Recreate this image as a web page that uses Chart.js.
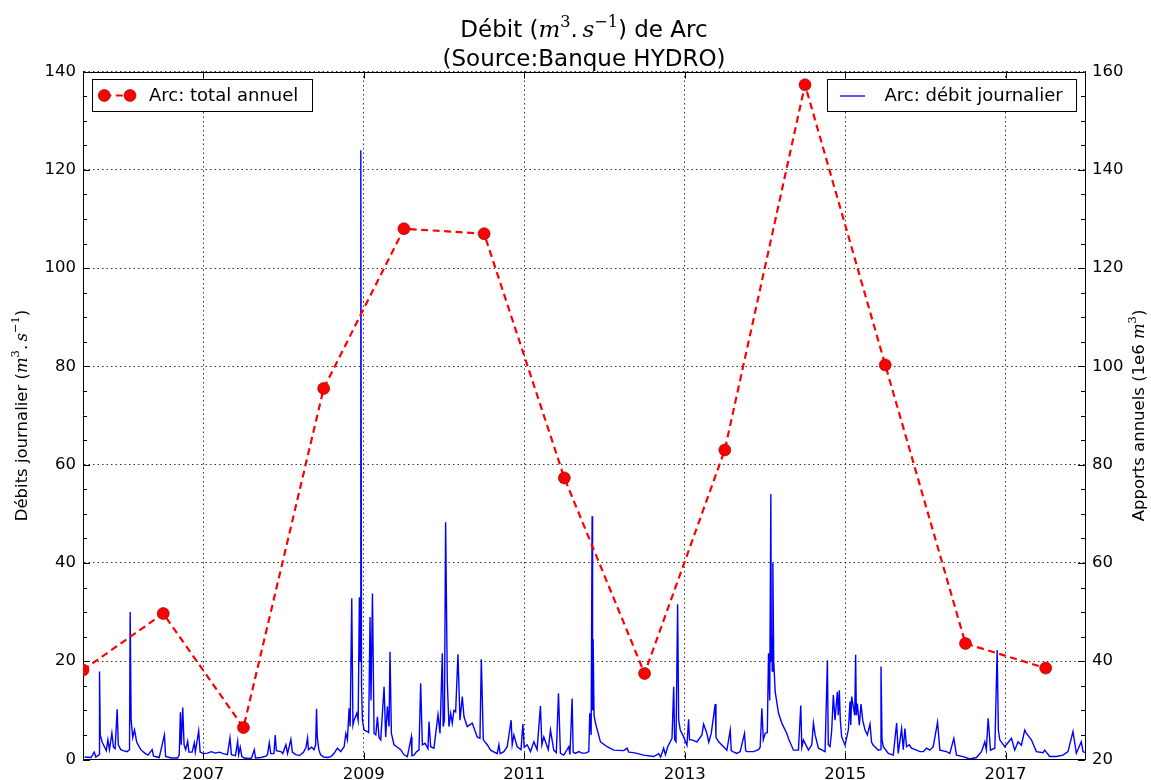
<!DOCTYPE html>
<html>
<head>
<meta charset="utf-8">
<script src="https://cdn.jsdelivr.net/npm/chart.js@4.4.1/dist/chart.umd.min.js"></script>
<style>
  html, body { margin: 0; padding: 0; background: #fff; }
  #wrap { width: 1151px; height: 780px; }
</style>
</head>
<body>
<div id="wrap"><canvas id="debit" width="1151" height="780"></canvas></div>
<script>
// Débit journalier de l'Arc (m3/s) : [année décimale, débit]
const debitJournalier = [
  [2005.520, 0.5], [2005.600, 0.4], [2005.640, 1.5], [2005.660, 0.5], [2005.700, 1.0], [2005.706, 17.9],
  [2005.715, 5.0], [2005.740, 3.5], [2005.770, 2.5], [2005.790, 1.8], [2005.810, 4.0], [2005.830, 2.0],
  [2005.860, 5.4], [2005.880, 2.5], [2005.900, 2.2], [2005.926, 10.2], [2005.940, 3.0], [2005.970, 2.0],
  [2006.000, 1.8], [2006.050, 1.6], [2006.080, 2.0], [2006.088, 30.0], [2006.100, 8.0], [2006.120, 4.5],
  [2006.142, 6.0], [2006.170, 3.5], [2006.220, 2.0], [2006.270, 1.3], [2006.310, 0.9], [2006.362, 2.0],
  [2006.380, 0.7], [2006.450, 0.4], [2006.515, 5.0], [2006.530, 0.6], [2006.600, 0.3], [2006.680, 0.3],
  [2006.700, 1.0], [2006.714, 9.6], [2006.725, 3.0], [2006.743, 10.6], [2006.760, 3.0], [2006.780, 2.0],
  [2006.805, 3.7], [2006.820, 1.5], [2006.860, 1.5], [2006.888, 3.4], [2006.900, 1.5], [2006.942, 5.8],
  [2006.960, 1.5], [2007.000, 1.2], [2007.050, 1.3], [2007.100, 1.6], [2007.150, 1.3], [2007.200, 1.5],
  [2007.250, 1.2], [2007.300, 1.0], [2007.332, 4.4], [2007.350, 1.0], [2007.400, 0.8], [2007.428, 3.7],
  [2007.440, 1.0], [2007.460, 2.5], [2007.480, 0.6], [2007.510, 0.3], [2007.560, 0.2], [2007.600, 0.3],
  [2007.635, 2.0], [2007.650, 0.3], [2007.720, 0.4], [2007.780, 0.7], [2007.800, 1.0], [2007.822, 3.4],
  [2007.840, 1.2], [2007.880, 1.2], [2007.896, 5.0], [2007.910, 1.8], [2007.967, 1.6], [2007.990, 1.2],
  [2008.029, 3.0], [2008.050, 1.2], [2008.091, 4.1], [2008.110, 1.5], [2008.150, 1.0], [2008.200, 0.8],
  [2008.250, 1.5], [2008.280, 2.5], [2008.299, 4.4], [2008.310, 2.0], [2008.350, 2.5], [2008.380, 2.0],
  [2008.400, 3.0], [2008.411, 10.3], [2008.420, 4.6], [2008.440, 2.0], [2008.460, 1.0], [2008.500, 0.5],
  [2008.550, 0.4], [2008.589, 0.6], [2008.630, 1.25], [2008.672, 2.3], [2008.713, 1.6], [2008.755, 2.6],
  [2008.776, 5.3], [2008.796, 4.0], [2008.817, 10.4], [2008.830, 6.7], [2008.850, 32.8], [2008.865, 7.0],
  [2008.879, 8.0], [2008.913, 9.4], [2008.930, 8.0], [2008.945, 33.0], [2008.955, 20.0], [2008.963, 124.0],
  [2008.972, 15.0], [2008.983, 8.0], [2009.004, 6.0], [2009.045, 5.7], [2009.060, 5.5], [2009.078, 29.0],
  [2009.090, 12.0], [2009.108, 33.8], [2009.128, 5.3], [2009.150, 5.0], [2009.170, 8.7], [2009.190, 4.5],
  [2009.211, 4.0], [2009.253, 14.8], [2009.273, 4.6], [2009.294, 10.8], [2009.315, 6.7], [2009.327, 21.9],
  [2009.344, 5.3], [2009.377, 3.0], [2009.420, 2.5], [2009.460, 2.0], [2009.500, 1.0], [2009.543, 0.6],
  [2009.593, 4.6], [2009.600, 0.8], [2009.626, 0.9], [2009.659, 1.6], [2009.688, 1.9], [2009.709, 15.5],
  [2009.730, 3.0], [2009.763, 3.3], [2009.800, 2.2], [2009.813, 7.7], [2009.834, 2.6], [2009.875, 2.3],
  [2009.925, 9.1], [2009.950, 5.3], [2009.979, 21.6], [2009.990, 6.7], [2010.005, 8.0], [2010.020, 48.3],
  [2010.041, 15.8], [2010.062, 6.7], [2010.083, 9.4], [2010.103, 7.4], [2010.124, 10.0], [2010.145, 9.7],
  [2010.174, 21.4], [2010.199, 8.0], [2010.228, 12.8], [2010.249, 8.7], [2010.290, 6.7], [2010.352, 7.4],
  [2010.414, 4.6], [2010.448, 4.3], [2010.465, 20.4], [2010.490, 4.0], [2010.539, 3.0], [2010.580, 1.9],
  [2010.663, 1.2], [2010.684, 3.0], [2010.700, 1.2], [2010.746, 1.6], [2010.788, 2.6], [2010.837, 8.0],
  [2010.850, 3.0], [2010.871, 5.0], [2010.912, 2.6], [2010.960, 2.0], [2010.983, 7.2], [2011.000, 2.5],
  [2011.037, 3.0], [2011.078, 1.6], [2011.120, 3.6], [2011.160, 2.0], [2011.202, 10.9], [2011.220, 3.0],
  [2011.244, 4.6], [2011.300, 2.0], [2011.327, 6.0], [2011.368, 1.9], [2011.400, 1.4], [2011.427, 13.5],
  [2011.451, 1.25], [2011.493, 0.9], [2011.555, 2.6], [2011.570, 1.0], [2011.597, 12.4], [2011.610, 1.5],
  [2011.638, 1.25], [2011.680, 1.6], [2011.720, 1.3], [2011.763, 1.3], [2011.805, 1.6], [2011.817, 9.4],
  [2011.834, 5.0], [2011.846, 49.5], [2011.852, 10.0], [2011.859, 24.5], [2011.870, 9.0], [2011.888, 7.4],
  [2011.950, 3.6], [2012.033, 2.6], [2012.116, 1.9], [2012.240, 1.8], [2012.282, 2.3], [2012.303, 1.5],
  [2012.365, 1.4], [2012.489, 0.9], [2012.614, 0.6], [2012.676, 1.2], [2012.700, 0.5], [2012.738, 2.3],
  [2012.760, 1.0], [2012.788, 2.6], [2012.842, 4.3], [2012.863, 14.8], [2012.875, 4.0], [2012.892, 3.6],
  [2012.912, 31.6], [2012.925, 8.0], [2012.945, 6.0], [2012.987, 4.6], [2013.028, 2.9], [2013.049, 8.2],
  [2013.060, 4.0], [2013.091, 4.0], [2013.153, 3.6], [2013.215, 5.0], [2013.236, 7.2], [2013.277, 5.3],
  [2013.300, 3.5], [2013.331, 5.3], [2013.381, 11.3], [2013.390, 4.5], [2013.423, 3.6], [2013.485, 2.6],
  [2013.526, 1.9], [2013.568, 6.0], [2013.580, 1.8], [2013.601, 1.6], [2013.651, 1.25], [2013.692, 1.6],
  [2013.746, 5.3], [2013.760, 1.8], [2013.775, 1.6], [2013.858, 1.6], [2013.920, 2.0], [2013.941, 2.5],
  [2013.962, 10.4], [2013.980, 4.0], [2014.003, 5.3], [2014.030, 5.5], [2014.045, 21.6], [2014.060, 12.0],
  [2014.074, 54.0], [2014.080, 20.0], [2014.086, 25.0], [2014.092, 18.0], [2014.099, 40.0], [2014.110, 20.0],
  [2014.128, 13.8], [2014.170, 9.4], [2014.211, 7.4], [2014.273, 5.3], [2014.300, 4.0], [2014.356, 1.9],
  [2014.418, 1.9], [2014.447, 11.0], [2014.460, 2.5], [2014.480, 4.0], [2014.543, 1.9], [2014.584, 3.0],
  [2014.605, 7.4], [2014.626, 5.0], [2014.667, 2.3], [2014.750, 1.6], [2014.779, 20.2], [2014.790, 3.0],
  [2014.812, 2.6], [2014.833, 6.0], [2014.853, 13.1], [2014.874, 8.0], [2014.903, 13.8], [2014.915, 9.0],
  [2014.928, 14.1], [2014.940, 8.0], [2014.957, 4.6], [2014.999, 2.9], [2015.040, 6.0], [2015.061, 11.8],
  [2015.070, 7.0], [2015.082, 12.8], [2015.102, 10.7], [2015.120, 9.0], [2015.131, 21.3], [2015.140, 9.0],
  [2015.152, 11.4], [2015.177, 7.0], [2015.198, 11.3], [2015.219, 8.0], [2015.248, 6.0], [2015.277, 5.0],
  [2015.310, 7.2], [2015.330, 3.5], [2015.351, 2.9], [2015.414, 1.9], [2015.440, 2.0], [2015.447, 18.9],
  [2015.460, 4.0], [2015.476, 2.6], [2015.538, 1.25], [2015.600, 0.9], [2015.642, 7.4], [2015.662, 1.25],
  [2015.704, 6.3], [2015.725, 2.0], [2015.745, 6.3], [2015.766, 2.6], [2015.799, 3.0], [2015.828, 2.3],
  [2015.891, 1.9], [2015.932, 1.6], [2015.974, 1.6], [2016.015, 2.3], [2016.057, 1.9], [2016.098, 2.6],
  [2016.152, 7.6], [2016.181, 1.9], [2016.264, 1.6], [2016.305, 1.25], [2016.355, 4.3], [2016.388, 0.9],
  [2016.471, 0.6], [2016.554, 0.1], [2016.637, 0.4], [2016.700, 1.6], [2016.741, 3.6], [2016.760, 2.0],
  [2016.783, 8.4], [2016.812, 1.9], [2016.866, 2.3], [2016.895, 22.3], [2016.910, 6.0], [2016.928, 4.0],
  [2016.990, 2.6], [2017.073, 4.3], [2017.114, 1.9], [2017.156, 3.6], [2017.197, 2.9], [2017.239, 6.0],
  [2017.260, 5.3], [2017.322, 4.0], [2017.384, 1.6], [2017.467, 1.4], [2017.488, 1.9], [2017.550, 0.6],
  [2017.633, 0.6], [2017.716, 0.9], [2017.778, 1.6], [2017.840, 5.7], [2017.882, 1.25], [2017.944, 3.6],
  [2017.965, 1.6], [2017.990, 1.4]
];

// Apports annuels (1e6 m3), placés au milieu de chaque année
const anneesMilieu = [2005.5, 2006.5, 2007.5, 2008.5, 2009.5, 2010.5, 2011.5, 2012.5, 2013.5, 2014.5, 2015.5, 2016.5, 2017.5];
const apportsAnnuels = [38.2, 49.7, 26.5, 95.5, 128.0, 127.0, 77.3, 37.5, 83.0, 157.3, 100.3, 43.6, 38.6];

const anneesTicks = [2007, 2009, 2011, 2013, 2015, 2017];

const SANS = '"DejaVu Sans", "Liberation Sans", sans-serif';
const SERIF = '"DejaVu Serif", "Liberation Serif", serif';

// texte avec morceaux "mathtext" : '' normal, 'i' italique, 's' exposant
function richText(ctx, parts, x, y, size, opts = {}) {
  const fontFor = k => k === 'i' ? `italic ${size}px ${SERIF}`
    : k === 's' ? `${(size * 0.7).toFixed(1)}px ${SERIF}`
    : `${size}px ${SANS}`;
  ctx.save();
  ctx.translate(x, y);
  if (opts.rotate) ctx.rotate(opts.rotate);
  ctx.textBaseline = opts.baseline || 'alphabetic';
  ctx.textAlign = 'left';
  ctx.fillStyle = '#000';
  let w = 0;
  parts.forEach(([t, k]) => { ctx.font = fontFor(k); w += ctx.measureText(t).width; });
  let cx = opts.align === 'left' ? 0 : -w / 2;
  parts.forEach(([t, k]) => {
    ctx.font = fontFor(k);
    ctx.fillText(t, cx, k === 's' ? -size * 0.42 : 0);
    cx += ctx.measureText(t).width;
  });
  ctx.restore();
}

const habillage = {
  id: 'habillage',
  afterDraw(chart) {
    const { ctx, chartArea: a, scales } = chart;
    const y = scales.y, x = scales.x;

    ctx.save();
    ctx.strokeStyle = '#000';
    ctx.lineWidth = 1;
    // cadre haut
    ctx.beginPath();
    ctx.moveTo(a.left, Math.round(a.top) + 0.5);
    ctx.lineTo(a.right, Math.round(a.top) + 0.5);
    ctx.stroke();

    // graduations vers l'intérieur
    ctx.beginPath();
    for (let v = 0; v <= 140; v += 5) {
      const py = Math.round(y.getPixelForValue(v)) + 0.5;
      const len = v % 20 === 0 ? 7 : 4;
      ctx.moveTo(a.left, py); ctx.lineTo(a.left + len, py);
      ctx.moveTo(a.right, py); ctx.lineTo(a.right - len, py);
    }
    anneesTicks.forEach(t => {
      const px = Math.round(x.getPixelForValue(t)) + 0.5;
      ctx.moveTo(px, a.bottom); ctx.lineTo(px, a.bottom - 7);
      ctx.moveTo(px, a.top); ctx.lineTo(px, a.top + 7);
    });
    ctx.stroke();
    ctx.restore();

    // titre
    const cx = (a.left + a.right) / 2;
    richText(ctx, [['Débit (', ''], ['m', 'i'], ['3', 's'], ['.\u2009', ''], ['s', 'i'], ['\u22121', 's'], [') de Arc', '']], cx, 36.5, 23);
    richText(ctx, [['(Source:Banque HYDRO)', '']], cx, 66, 23);

    // titres des axes
    const cy = (a.top + a.bottom) / 2;
    richText(ctx, [['Débits journalier (', ''], ['m', 'i'], ['3', 's'], ['.\u2009', ''], ['s', 'i'], ['\u22121', 's'], [')', '']],
      22.5, cy, 16.5, { rotate: -Math.PI / 2, baseline: 'middle' });
    richText(ctx, [['Apports annuels (1e6 ', ''], ['m', 'i'], ['3', 's'], [')', '']],
      1140, cy, 16.5, { rotate: -Math.PI / 2, baseline: 'middle' });

    // légende gauche
    ctx.save();
    ctx.fillStyle = '#fff';
    ctx.strokeStyle = '#000';
    ctx.lineWidth = 1;
    ctx.fillRect(92, 79.5, 221, 32);
    ctx.strokeRect(92.5, 79.5, 220, 32);
    ctx.strokeStyle = '#ff0000';
    ctx.lineWidth = 2.2;
    ctx.setLineDash([7, 4.5]);
    ctx.beginPath(); ctx.moveTo(104.3, 95.5); ctx.lineTo(130, 95.5); ctx.stroke();
    ctx.setLineDash([]);
    [104.3, 130].forEach(px => {
      ctx.beginPath(); ctx.arc(px, 95.5, 6, 0, Math.PI * 2);
      ctx.fillStyle = '#ff0000'; ctx.fill();
      ctx.lineWidth = 0.6; ctx.strokeStyle = '#7a0000'; ctx.stroke();
    });
    ctx.fillStyle = '#000';
    ctx.font = `18px ${SANS}`;
    ctx.textBaseline = 'middle';
    ctx.fillText('Arc: total annuel', 149, 96);

    // légende droite
    ctx.fillStyle = '#fff';
    ctx.fillRect(827, 79.5, 250, 32);
    ctx.strokeStyle = '#000';
    ctx.lineWidth = 1;
    ctx.strokeRect(827.5, 79.5, 249, 32);
    ctx.strokeStyle = '#0000ff';
    ctx.lineWidth = 1.3;
    ctx.beginPath(); ctx.moveTo(840, 96); ctx.lineTo(865, 96); ctx.stroke();
    ctx.fillStyle = '#000';
    ctx.fillText('Arc: débit journalier', 884.5, 96);
    ctx.restore();
  }
};

const tickFont = { family: SANS, size: 16.5 };
const dotted = { color: 'rgba(0,0,0,0.8)', lineWidth: 1, drawTicks: false };

new Chart(document.getElementById('debit'), {
  type: 'line',
  data: {
    datasets: [
      {
        label: 'Arc: total annuel',
        data: anneesMilieu.map((t, i) => ({ x: t, y: apportsAnnuels[i] })),
        yAxisID: 'y1',
        borderColor: '#ff0000',
        borderWidth: 2.2,
        borderDash: [7, 4.5],
        pointRadius: 6,
        pointBackgroundColor: '#ff0000',
        pointBorderColor: '#7a0000',
        pointBorderWidth: 0.6,
        tension: 0,
      },
      {
        label: 'Arc: débit journalier',
        data: debitJournalier.map(([t, q]) => ({ x: t, y: q })),
        yAxisID: 'y',
        borderColor: '#0000ff',
        borderWidth: 1.4,
        pointRadius: 0,
        tension: 0,
      },
    ],
  },
  options: {
    responsive: false,
    animation: false,
    devicePixelRatio: 1,
    layout: { padding: { top: 71.5, left: 0, right: 0, bottom: 0 } },
    plugins: { legend: { display: false }, tooltip: { enabled: false }, title: { display: false } },
    scales: {
      x: {
        type: 'linear',
        min: 2005.5,
        max: 2017.99,
        afterBuildTicks: s => { s.ticks = anneesTicks.map(v => ({ value: v })); },
        afterFit: s => { s.height = 20.5; },
        ticks: { font: tickFont, color: '#000', padding: 5, maxRotation: 0, autoSkip: false, callback: v => String(v) },
        grid: dotted,
        border: { color: '#000', width: 1, dash: [1.5, 3] },
      },
      y: {
        position: 'left',
        min: 0,
        max: 140,
        afterFit: s => { s.width = 83; },
        ticks: { stepSize: 20, font: tickFont, color: '#000', padding: 7 },
        grid: dotted,
        border: { color: '#000', width: 1, dash: [1.5, 3] },
      },
      y1: {
        position: 'right',
        min: 20,
        max: 160,
        afterFit: s => { s.width = 66; },
        ticks: { stepSize: 20, font: tickFont, color: '#000', padding: 7 },
        grid: { drawOnChartArea: false, drawTicks: false },
        border: { color: '#000', width: 1 },
      },
    },
  },
  plugins: [habillage],
});
</script>
</body>
</html>
